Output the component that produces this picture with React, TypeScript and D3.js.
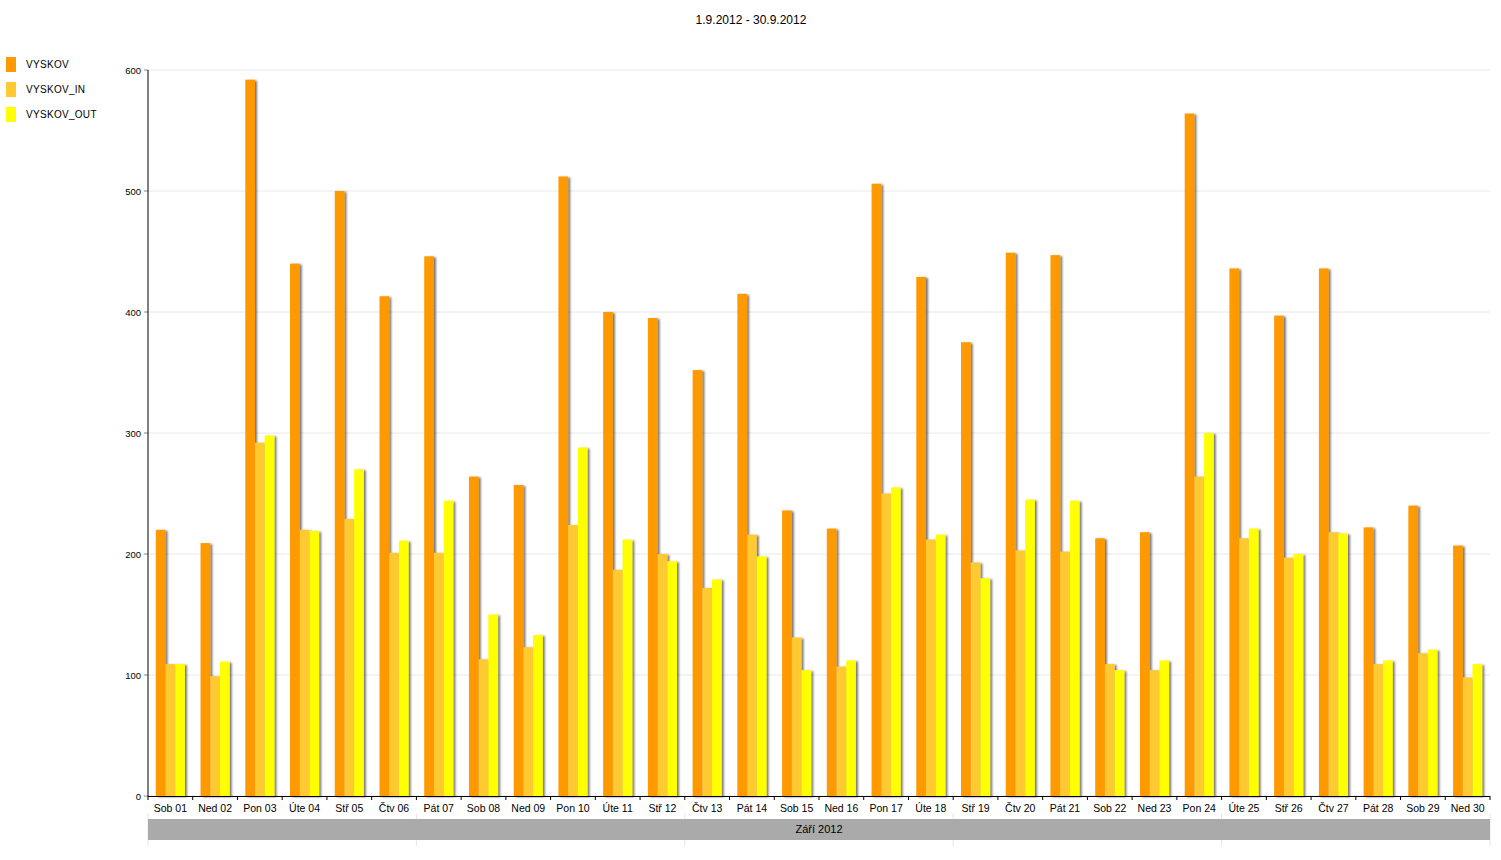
import React from "react";
import * as d3 from "d3";

const categories = ["Sob 01","Ned 02","Pon 03","Úte 04","Stř 05","Čtv 06","Pát 07","Sob 08","Ned 09","Pon 10","Úte 11","Stř 12","Čtv 13","Pát 14","Sob 15","Ned 16","Pon 17","Úte 18","Stř 19","Čtv 20","Pát 21","Sob 22","Ned 23","Pon 24","Úte 25","Stř 26","Čtv 27","Pát 28","Sob 29","Ned 30"];
const vyskov = [220,209,592,440,500,413,446,264,257,512,400,395,352,415,236,221,506,429,375,449,447,213,218,564,436,397,436,222,240,207];
const vyskovIn = [109,99,292,220,229,201,201,113,123,224,187,200,172,216,131,107,250,212,193,203,202,109,104,264,213,197,218,109,118,98];
const vyskovOut = [109,111,298,219,270,211,244,150,133,288,212,194,179,198,104,112,255,216,180,245,244,104,112,300,221,200,217,112,121,109];
const seriesNames = ["VYSKOV","VYSKOV_IN","VYSKOV_OUT"];
const seriesColors = ["#ff9900","#ffc933","#ffff00"];
const yTicks = [0,100,200,300,400,500,600];
const title = "1.9.2012 - 30.9.2012";
const monthLabel = "Září 2012";

export default function App() {
  const W = 1501, H = 860;
  const left = 148, right = 1490, top = 70, bottom = 796;
  const x = d3.scaleBand<string>().domain(categories).range([left, right]).paddingInner(0.35).paddingOuter(0.175);
  const step = x.step();
  const xs = d3.scaleBand<string>().domain(seriesNames).range([0, x.bandwidth()]);
  const y = d3.scaleLinear().domain([0, 600]).range([bottom, top]);
  const data = [vyskov, vyskovIn, vyskovOut];
  const font = "Arial, 'Liberation Sans', sans-serif";
  return (
    <svg width={W} height={H} style={{ position: "absolute", left: 0, top: 0, fontFamily: font }}>
      <defs>
        <filter id="sh" x="-50%" y="-5%" width="200%" height="110%">
          <feDropShadow dx="2" dy="1" stdDeviation="0.8" floodColor="#000" floodOpacity="0.55" />
        </filter>
      </defs>
      <rect width={W} height={H} fill="#fff" />
      <text x={751} y={24} textAnchor="middle" fontSize={12} fill="#000">{title}</text>
      {seriesNames.map((s, i) => (
        <g key={s}>
          <rect x={6} y={57 + i * 25} width={10} height={15} fill={seriesColors[i]} />
          <text x={26} y={68 + i * 25} fontSize={10} letterSpacing={0.3} fill="#000">{s}</text>
        </g>
      ))}
      {yTicks.map(t => (
        <g key={t}>
          <line x1={left} x2={right} y1={y(t)} y2={y(t)} stroke="#e8e8e8" />
          <line x1={144} x2={left} y1={y(t)} y2={y(t)} stroke="#888" />
          <text x={141} y={y(t) + 3.5} textAnchor="end" fontSize={9.5} fill="#000">{t}</text>
        </g>
      ))}
      {categories.map((c, ci) => (
        <g key={c}>
          {data.map((arr, si) => (
            <rect key={si} x={(x(c) as number) + (xs(seriesNames[si]) as number)} y={y(arr[ci])}
              width={xs.bandwidth()} height={bottom - y(arr[ci])} fill={seriesColors[si]} filter="url(#sh)" />
          ))}
        </g>
      ))}
      <line x1={left} x2={left} y1={top} y2={bottom} stroke="#000" />
      <line x1={left} x2={right} y1={bottom + 0.5} y2={bottom + 0.5} stroke="#000" />
      {d3.range(categories.length + 1).map(i => (
        <line key={i} x1={left + i * step} x2={left + i * step} y1={bottom} y2={bottom + 4} stroke="#000" />
      ))}
      {categories.map(c => (
        <text key={c} x={(x(c) as number) + x.bandwidth() / 2} y={812} textAnchor="middle" fontSize={10.5} fill="#000">{c}</text>
      ))}
      {d3.range(0, categories.length + 1, 6).map(i => (
        <line key={i} x1={left + i * step} x2={left + i * step} y1={813} y2={846} stroke="#e6e6e6" />
      ))}
      <rect x={left} y={819} width={right - left} height={21} fill="#aaaaaa" />
      <text x={(left + right) / 2} y={833} textAnchor="middle" fontSize={11} fill="#000">{monthLabel}</text>
    </svg>
  );
}
